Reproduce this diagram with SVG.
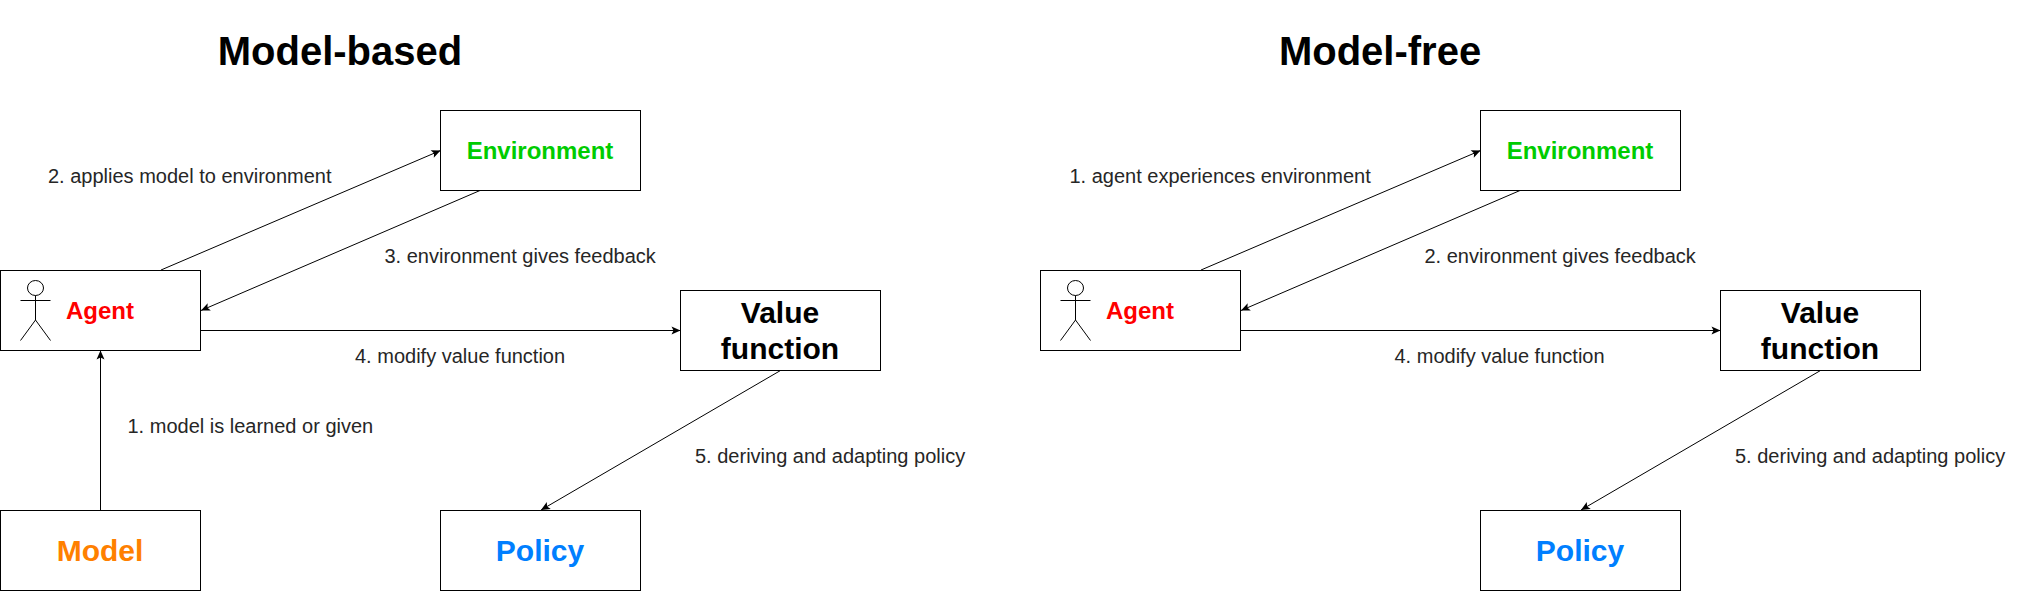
<svg xmlns="http://www.w3.org/2000/svg" width="2021" height="593" viewBox="0 0 2021 593">
<style>
text{font-family:"Liberation Sans",Arial,sans-serif;text-anchor:middle}
.box{fill:#fff;stroke:#000;stroke-width:1}
.lbl{font-size:20px;fill:#262626;text-anchor:start}
.title{font-size:40px;font-weight:bold;fill:#000}
.n24{font-size:24px;font-weight:bold}
.n30{font-size:30px;font-weight:bold}
.edge{fill:none;stroke:#000;stroke-width:1;marker-end:url(#arrow)}
.actor{fill:none;stroke:#000;stroke-width:1}
</style>
<defs>
<marker id="arrow" markerUnits="userSpaceOnUse" markerWidth="12" markerHeight="12" refX="10" refY="6" orient="auto">
<path d="M1,2 L10,6 L1,10 L3,6 Z" fill="#000" stroke="none"/>
</marker>
<g id="actor"><ellipse cx="35.500" cy="288" rx="8" ry="7.500"/><path d="M35.500,295.500V320M20.500,300.500H50.500M20.500,340.500L35.500,320L50.500,340.500"/></g>
</defs>
<rect width="2021" height="593" fill="#fff"/>
<text class="title" x="340" y="65">Model-based</text>
<text class="title" x="1380" y="65">Model-free</text>
<g id="connectors">
<path class="edge" d="M161,270L440.500,150.500"/>
<path class="edge" d="M480,190.500L201,310.500"/>
<path class="edge" d="M200.500,330.500H680.500"/>
<path class="edge" d="M100.500,510V350.500"/>
<path class="edge" d="M780.500,370.500L541,510"/>
<path class="edge" d="M1201,270L1480.500,150.500"/>
<path class="edge" d="M1520,190.500L1241,310.500"/>
<path class="edge" d="M1240.500,330.500H1720.500"/>
<path class="edge" d="M1820.500,370.500L1581,510"/>
</g>
<g id="labels">
<text class="lbl" x="48" y="183">2. applies model to environment</text>
<text class="lbl" x="384.500" y="263">3. environment gives feedback</text>
<text class="lbl" x="355" y="363">4. modify value function</text>
<text class="lbl" x="127.500" y="433">1. model is learned or given</text>
<text class="lbl" x="695" y="463">5. deriving and adapting policy</text>
<text class="lbl" x="1069.500" y="183">1. agent experiences environment</text>
<text class="lbl" x="1424.500" y="263">2. environment gives feedback</text>
<text class="lbl" x="1394.500" y="363">4. modify value function</text>
<text class="lbl" x="1735" y="463">5. deriving and adapting policy</text>
</g>
<g id="mb-environment"><rect class="box" x="440.500" y="110.500" width="200" height="80"/><text class="n24" x="540" y="159" fill="#00cc00">Environment</text></g>
<g id="mb-agent"><rect class="box" x="0.500" y="270.500" width="200" height="80"/><use href="#actor" class="actor"/><text class="n24" x="100" y="319" fill="#ff0000">Agent</text></g>
<g id="mb-value"><rect class="box" x="680.500" y="290.500" width="200" height="80"/><text class="n30" x="780" y="323">Value</text><text class="n30" x="780" y="359">function</text></g>
<g id="mb-model"><rect class="box" x="0.500" y="510.500" width="200" height="80"/><text class="n30" x="100" y="561" fill="#ff8000">Model</text></g>
<g id="mb-policy"><rect class="box" x="440.500" y="510.500" width="200" height="80"/><text class="n30" x="540" y="561" fill="#007fff">Policy</text></g>
<g id="mf-environment"><rect class="box" x="1480.500" y="110.500" width="200" height="80"/><text class="n24" x="1580" y="159" fill="#00cc00">Environment</text></g>
<g id="mf-agent"><rect class="box" x="1040.500" y="270.500" width="200" height="80"/><use href="#actor" x="1040" class="actor"/><text class="n24" x="1140" y="319" fill="#ff0000">Agent</text></g>
<g id="mf-value"><rect class="box" x="1720.500" y="290.500" width="200" height="80"/><text class="n30" x="1820" y="323">Value</text><text class="n30" x="1820" y="359">function</text></g>
<g id="mf-policy"><rect class="box" x="1480.500" y="510.500" width="200" height="80"/><text class="n30" x="1580" y="561" fill="#007fff">Policy</text></g>
</svg>
